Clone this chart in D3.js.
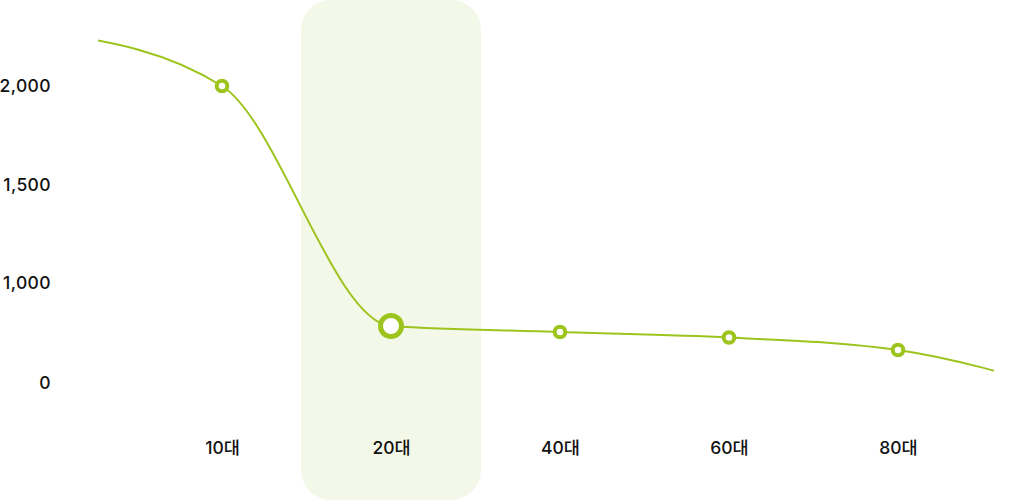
<!DOCTYPE html>
<html>
<head>
<meta charset="utf-8">
<script src="https://cdn.jsdelivr.net/npm/d3@7"></script>
<style>
  html, body { margin: 0; padding: 0; background: #ffffff; }
  svg { display: block; }
  text { font-family: Inter, "Noto Sans CJK KR", "Noto Sans", sans-serif; }
</style>
</head>
<body>
<svg id="chart" width="1032" height="500"></svg>
<script>
// ---- data ----
const categories = ["10대", "20대", "40대", "60대", "80대"];
const values = [2000, 570, 510, 455, 330];
// hidden continuation of the line just beyond each end of the plot (clipped)
const edgeValues = [2270, -85];
const yTickValues = [0, 1000, 1500, 2000];
const yTickLabels = ["0", "1,000", "1,500", "2,000"];
const highlightCategory = "20대";

// ---- layout ----
const W = 1032, H = 500;
const green = "#9cc41d";
const highlightFill = "#f4f8e8";

const svg = d3.select("#chart");

const x = d3.scalePoint().domain(categories).range([222, 898]);
const step = x.step();
const y = d3.scaleLinear().domain([0, 1000, 2000]).range([383, 283, 86]);

// highlight band
const hw = 180;
svg.append("rect")
  .attr("x", x(highlightCategory) - hw / 2)
  .attr("y", 0)
  .attr("width", hw)
  .attr("height", H)
  .attr("rx", 30)
  .attr("ry", 30)
  .attr("fill", highlightFill);

// y axis labels
const yAxis = d3.axisLeft(y)
  .tickValues(yTickValues)
  .tickFormat((d, i) => yTickLabels[i])
  .tickSize(0)
  .tickPadding(0);
const gy = svg.append("g").attr("transform", "translate(51,0)").call(yAxis);
gy.select(".domain").remove();
gy.selectAll("text")
  .attr("font-size", 17.5)
  .attr("font-weight", 500)
  .attr("letter-spacing", "0.4px")
  .attr("fill", "#111111")
  .attr("font-family", "Inter, 'Noto Sans CJK KR', sans-serif");

// x axis labels
const xAxis = d3.axisBottom(x).tickSize(0).tickPadding(0);
const gx = svg.append("g").attr("transform", "translate(0,454)").call(xAxis);
gx.select(".domain").remove();
gx.selectAll("text")
  .attr("y", 0)
  .attr("dy", null)
  .attr("font-size", 17.5)
  .attr("font-weight", 500)
  .attr("fill", "#111111")
  .attr("font-family", "Inter, 'Noto Sans CJK KR', sans-serif");

// line
const linePts = [
  [x(categories[0]) - step, y(edgeValues[0])],
  ...categories.map((c, i) => [x(c), y(values[i])]),
  [x(categories[categories.length - 1]) + step, y(edgeValues[1])]
];

svg.append("clipPath").attr("id", "plotClip")
  .append("rect").attr("x", 98).attr("y", 0).attr("width", 994 - 98).attr("height", H);

svg.append("path")
  .datum(linePts)
  .attr("clip-path", "url(#plotClip)")
  .attr("fill", "none")
  .attr("stroke", green)
  .attr("stroke-width", 2)
  .attr("d", d3.line().curve(d3.curveMonotoneX));

// points
svg.append("g").selectAll("circle")
  .data(categories)
  .join("circle")
  .attr("cx", d => x(d))
  .attr("cy", (d, i) => y(values[i]))
  .attr("r", d => d === highlightCategory ? 10.5 : 5.3)
  .attr("fill", "#ffffff")
  .attr("stroke", green)
  .attr("stroke-width", d => d === highlightCategory ? 5 : 4);
</script>
</body>
</html>
